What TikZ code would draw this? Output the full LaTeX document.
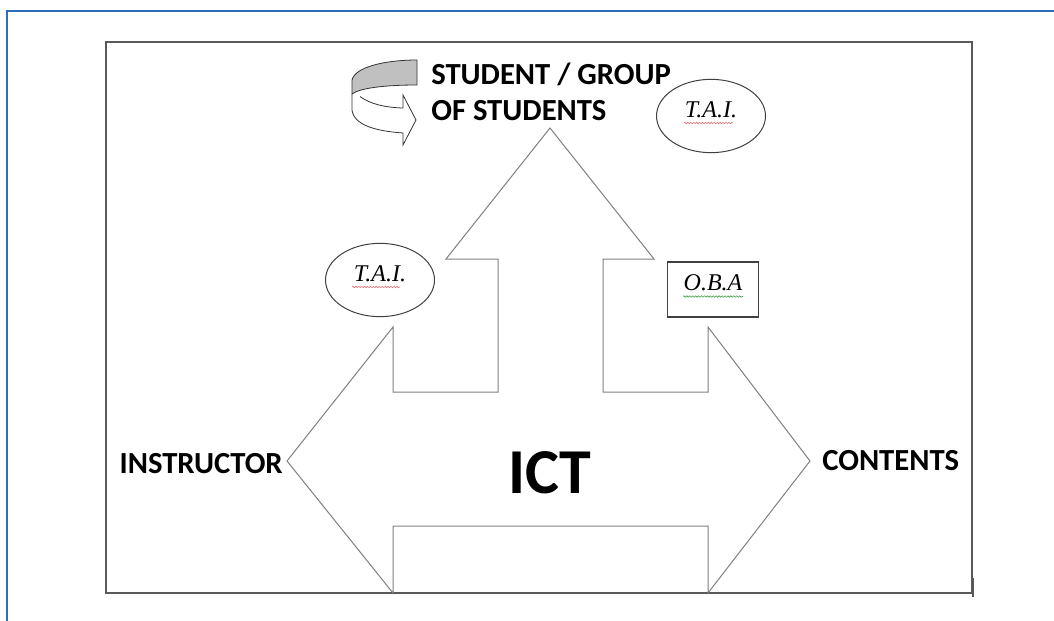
\documentclass[tikz,border=0pt]{standalone}
\usepackage{fontspec}
\newfontfamily\calib{Carlito}
\newfontfamily\timesf{Liberation Serif}
\usepackage{tikz}
\usetikzlibrary{positioning}
\usetikzlibrary{shapes}
\usetikzlibrary{calc}
\usetikzlibrary{decorations.pathmorphing}

\definecolor{frameblue}{HTML}{2E6EB5}
\definecolor{framegray}{HTML}{595959}
\definecolor{shapegray}{HTML}{7F7F7F}
\definecolor{bandgray}{HTML}{C0C0C0}
\definecolor{spellred}{HTML}{E57373}
\definecolor{spellgreen}{HTML}{43A047}

\begin{document}
\begin{tikzpicture}[x=0.75pt, y=-0.75pt,
	word/.style={font=\calib\bfseries\fontsize{23}{26.8}\selectfont, inner sep=0pt},
	tai/.style={ellipse, draw=black!75, line width=0.75pt, minimum width=81.75pt, minimum height=55pt, text depth=10pt, inner sep=0pt, font=\timesf\itshape\fontsize{18}{20}\selectfont},
	oba/.style={rectangle, draw=black!75, line width=0.9pt, minimum width=68.25pt, minimum height=41.25pt, text depth=10pt, inner sep=0pt, font=\timesf\itshape\fontsize{18}{20}\selectfont},
	squiggle/.style={decorate, decoration={snake, segment length=2.2pt, amplitude=0.55pt}, line width=0.45pt}]

\useasboundingbox (0,0) rectangle (1054,621);

\draw[frameblue, line width=1.5pt] (7,621) -- (7,11) -- (1054,11);
\draw[framegray, line width=1.1pt] (106,42) rectangle (972,593);
\draw[framegray, line width=1.1pt] (973,578) -- (973,597);

\coordinate (uptip) at (550,128);
\coordinate (lefttip) at (287,461);
\coordinate (righttip) at (810,461);

\draw[shapegray, line width=0.75pt] (uptip) -- (654,259) -- (603,259) -- (603,392) -- (708,392) -- (708,327)
	-- (righttip) -- (708,593) -- (708,526) -- (393,526) -- (393,593) -- (lefttip) -- (393,327)
	-- (393,392) -- (498,392) -- (498,259) -- (446,259) -- cycle;

% curved arrow
\draw[black!80, line width=0.6pt, fill=white] (360,96.5) .. controls (370,104) and (385,107.5) .. (403,108)
	-- (403,95) -- (416,120) -- (403,145) -- (403,133)
	.. controls (375,131) and (354,125) .. (352,110) -- (352,94);
\draw[black!80, line width=0.6pt, fill=bandgray] (417,60) .. controls (385,60) and (355,67) .. (352,80)
	-- (352,94) .. controls (360,88) and (385,85) .. (417,85) -- cycle;

\node[word, anchor=west, align=left] (stud) at (431,92) {STUDENT / GROUP\\OF STUDENTS};
\node[word, anchor=east] (instr) at ($(lefttip)+(-4,3)$) {INSTRUCTOR};
\node[word, anchor=west] (cont) at ($(righttip)+(12,0)$) {CONTENTS};
\node[font=\calib\bfseries\fontsize{48}{50}\selectfont, inner sep=0pt] (ict) at (550,473) {ICT};

\node[tai] (taitop) at (711,116) {T.A.I.};
\node[tai] (taileft) at (380,280) {T.A.I.};
\node[oba] (oba) at (713,289.5) {O.B.A};

\draw[spellred, squiggle] ($(taitop)+(-27,7)$) -- ++(49,0);
\draw[spellred, squiggle] ($(taileft)+(-28,7)$) -- ++(48,0);
\draw[spellgreen, squiggle] ($(oba)+(-30,7)$) -- ++(60,0);
\end{tikzpicture}
\end{document}
